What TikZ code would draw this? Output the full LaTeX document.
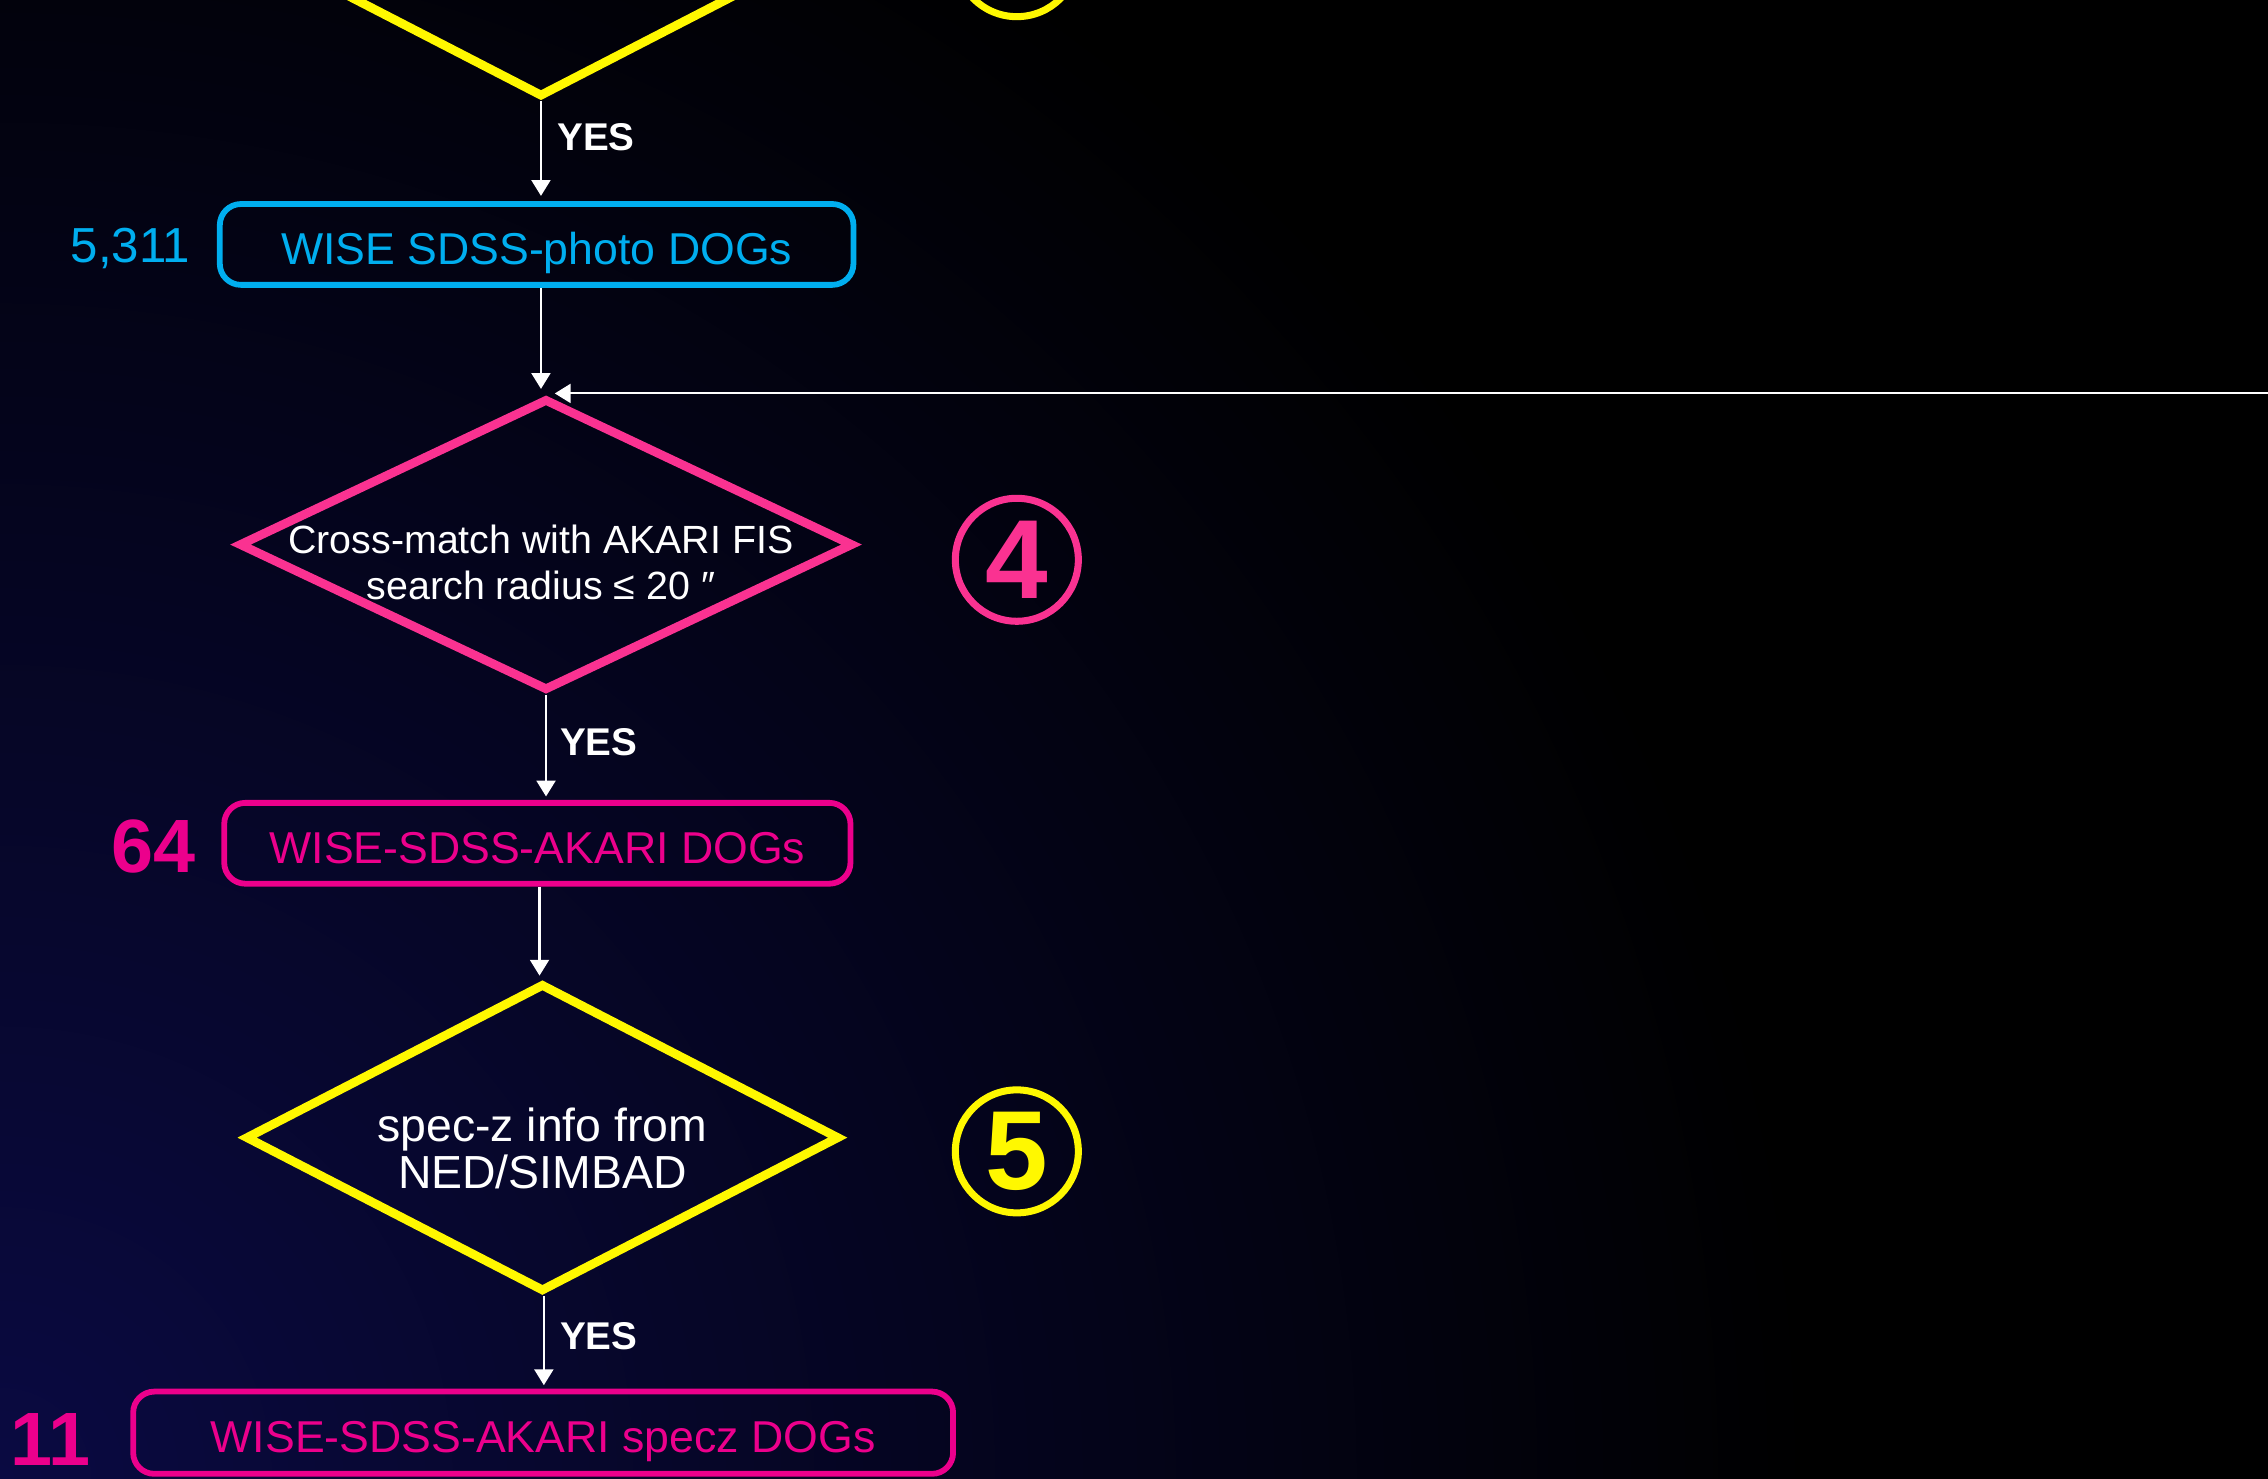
\documentclass[tikz,border=0pt]{standalone}
\usepackage{fontspec}
\setmainfont{Liberation Sans}
\usetikzlibrary{arrows.meta,shapes.geometric}
\definecolor{cyanb}{RGB}{0,174,239}
\definecolor{pinkd}{RGB}{250,50,145}
\definecolor{magb}{RGB}{236,0,140}
\definecolor{yel}{RGB}{255,248,0}
\definecolor{navyb}{RGB}{10,10,66}
\begin{document}
\begin{tikzpicture}[x=0.014464cm,y=-0.014464cm,
  arr/.style={draw=white, line width=0.6pt, -{Triangle[length=4.5pt,width=5.4pt]}},
  diashape/.style={shape=diamond, line width=2.5pt, inner sep=0pt},
  boxsty/.style={rectangle, rounded corners=6pt, line width=1.65pt, inner sep=0pt, minimum height=23pt, text height=11.5pt, text depth=0pt},
  boxtxt/.style={font=\fontsize{12.7}{14}\selectfont},
  yeslbl/.style={text=white, inner sep=0pt, font=\bfseries\fontsize{11}{11}\selectfont},
  numcirc/.style={circle, line width=2pt, minimum size=35pt, inner sep=0pt, font=\bfseries\fontsize{32}{32}\selectfont},
  countlbl/.style={inner sep=0pt, font=\bfseries\fontsize{21.5}{22}\selectfont, text=magb}]
\path[use as bounding box] (0,0) rectangle (1568,1022);
\clip (-8,-8) rectangle (1576,1030);
% background
\fill[black] (-8,-8) rectangle (1576,1030);
\shade[inner color=navyb, outer color=black] (0,1022) circle (1250);
% top (partial) diamond and circle
\node[diashape, draw=yel, minimum width=169.1pt, minimum height=87.7pt] (d3) at (374,-39.5) {};
\node[numcirc, draw=yel] (c3) at (703,-31) {};
% blue box
\node[boxsty, draw=cyanb, minimum width=180.3pt, text=cyanb, boxtxt] (b1) at (371,169) {WISE SDSS-photo DOGs};
\node[inner sep=0pt, text=cyanb, font=\fontsize{14}{14}\selectfont, anchor=east] (n1) at (132,172) {5,311};
% pink diamond
\node[diashape, draw=pinkd, minimum width=174.9pt, minimum height=83.1pt] (d4) at (377.5,376.5) {};
\node[text=white, align=center, inner sep=0pt, font=\fontsize{11.2}{13.2}\selectfont] (t4) at (374,389) {Cross-match with AKARI FIS\\search radius ≤ 20 ″};
\node[numcirc, draw=pinkd, text=pinkd] (c4) at (703,387) {4};
% magenta box
\node[boxsty, draw=magb, minimum width=178.2pt, text=magb, boxtxt] (b2) at (371.5,583) {WISE-SDSS-AKARI DOGs};
\node[countlbl] (n2) at (106,585) {64};
% yellow diamond
\node[diashape, draw=yel, minimum width=169.1pt, minimum height=87.7pt] (d5) at (375,786.5) {};
\node[text=white, align=center, inner sep=0pt, font=\fontsize{13.2}{13.2}\selectfont] (t5) at (375,794) {spec-z info from\\NED/SIMBAD};
\node[numcirc, draw=yel, text=yel] (c5) at (703,796) {5};
% bottom box
\node[boxsty, draw=magb, minimum width=233.3pt, minimum height=23.4pt, text=magb, boxtxt] (b3) at (375.5,990.5) {WISE-SDSS-AKARI specz DOGs};
\node[countlbl] (n3) at (35,995) {11};
% connectors
\draw[arr, shorten >=1.5pt] (d3.south) -- (d3.south |- b1.north);
\draw[arr, shorten >=1.5pt] (d3.south |- b1.south) -- (d3.south |- d4.north);
\coordinate (hin) at (1568,272);
\draw[arr, shorten >=2.5pt] (hin) -- (hin -| d4.north);
\draw[arr, shorten >=1pt] (d4.south) -- (d4.south |- b2.north);
\draw[arr, shorten >=1pt] (b2.south -| 373,0) -- (d5.north -| 373,0);
\draw[arr, shorten >=1pt] (d5.south -| 376,0) -- (b3.north -| 376,0);
% YES labels
\node[yeslbl] (y1) at (412,95) {YES};
\node[yeslbl] (y2) at (414,513) {YES};
\node[yeslbl] (y3) at (414,924) {YES};
\end{tikzpicture}
\end{document}
